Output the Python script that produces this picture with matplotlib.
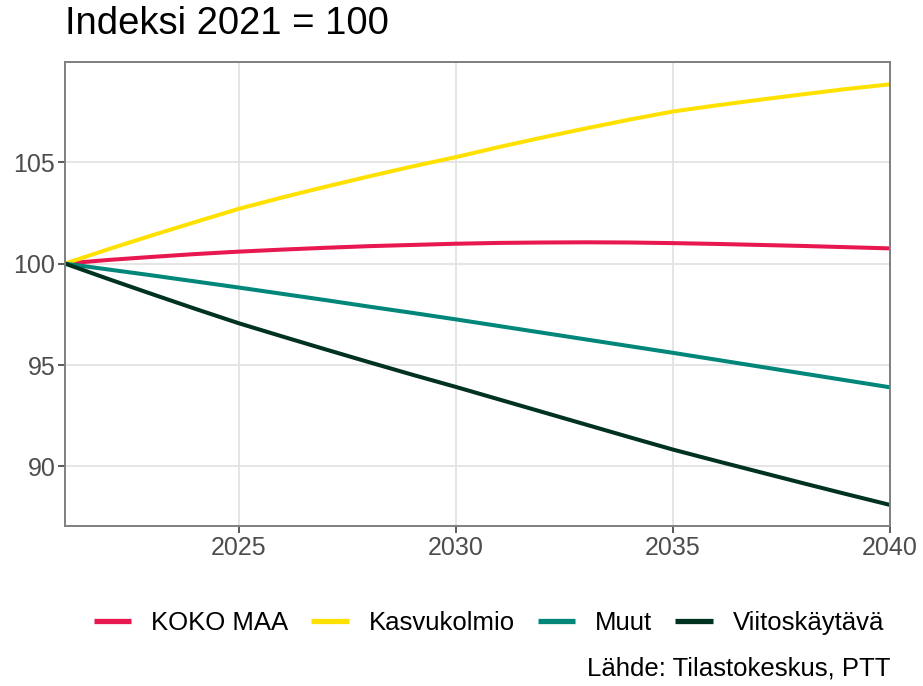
import matplotlib.pyplot as plt
from matplotlib.ticker import FixedLocator

plt.rcParams['font.family'] = ['Liberation Sans', 'DejaVu Sans']

years = list(range(2021, 2041))

koko_maa = [100.0, 100.18, 100.33, 100.47, 100.59, 100.69, 100.78, 100.86, 100.92, 100.98,
            101.02, 101.04, 101.05, 101.04, 101.01, 100.97, 100.92, 100.87, 100.81, 100.75]
kasvukolmio = [100.0, 100.71, 101.39, 102.05, 102.7, 103.26, 103.79, 104.3, 104.79, 105.25,
               105.75, 106.22, 106.67, 107.1, 107.5, 107.8, 108.08, 108.35, 108.61, 108.84]
muut = [100.0, 99.71, 99.42, 99.12, 98.82, 98.51, 98.2, 97.88, 97.57, 97.25,
        96.92, 96.59, 96.26, 95.93, 95.6, 95.26, 94.92, 94.58, 94.24, 93.9]
viitoskaytava = [100.0, 99.24, 98.5, 97.77, 97.06, 96.41, 95.77, 95.14, 94.52, 93.92,
                 93.3, 92.68, 92.06, 91.44, 90.83, 90.27, 89.72, 89.17, 88.63, 88.1]

series_names = ["KOKO MAA", "Kasvukolmio", "Muut", "Viitoskäytävä"]
series_values = [koko_maa, kasvukolmio, muut, viitoskaytava]
colors = ["#E8174F", "#FFE100", "#00877A", "#00331F"]

x_ticks = [2025, 2030, 2035, 2040]
y_ticks = [90, 95, 100, 105]

fig = plt.figure(figsize=(9.23, 6.86), dpi=100)
ax = fig.add_axes([0.0704, 0.2332, 0.8939, 0.6764])

for name, vals, col in zip(series_names, series_values, colors):
    ax.plot(years, vals, color=col, linewidth=2.9, label=name, solid_capstyle="butt")

ax.set_xlim(2021, 2040)
ax.set_ylim(87.06, 109.94)
ax.xaxis.set_major_locator(FixedLocator(x_ticks))
ax.yaxis.set_major_locator(FixedLocator(y_ticks))
ax.grid(True, color="#E3E3E3", linewidth=1.3)
ax.set_axisbelow(True)
for s in ax.spines.values():
    s.set_color("#7F7F7F")
    s.set_linewidth(1.4)
ax.tick_params(colors="#4D4D4D", labelsize=18, length=5, width=1.3, pad=2)
ax.tick_params(axis="both", color="#4D4D4D")

fig.text(0.0704, 0.965, "Indeksi 2021 = 100", fontsize=27.5, ha="left", va="center")

leg = fig.legend(loc="center", bbox_to_anchor=(0.5298, 0.092), ncol=4, frameon=False,
                 fontsize=18.5, handlelength=1.45, handletextpad=0.78, columnspacing=0.9)
for line in leg.get_lines():
    line.set_linewidth(3.8)

fig.text(0.9643, 0.026, "Lähde: Tilastokeskus, PTT", fontsize=18.5, ha="right", va="center")

fig.savefig("out.png", dpi=100)
